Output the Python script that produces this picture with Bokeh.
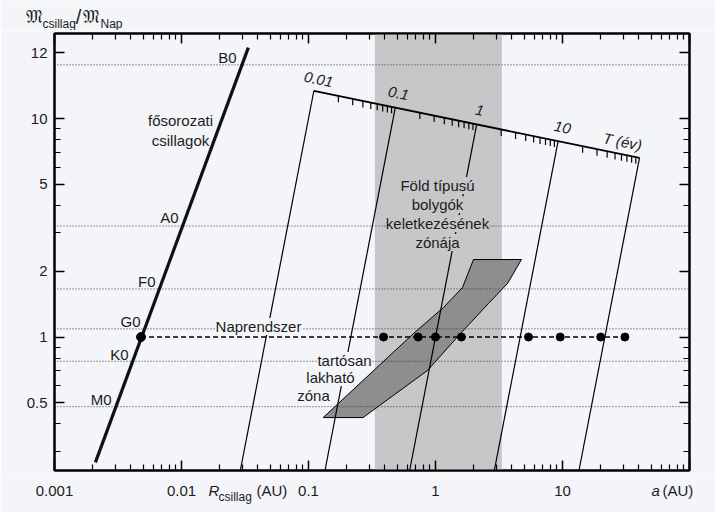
import math
from bokeh.plotting import figure
from bokeh.layouts import column
from bokeh.models import Label, LogAxis, FixedTicker, Range1d
from bokeh.embed import file_html
from bokeh.resources import INLINE

# ---------------- data ----------------
X_MIN, X_MAX = 0.001, 100.0
Y_MIN, Y_MAX = 0.245, 24.5

x_major = [0.001, 0.01, 0.1, 1, 10, 100]
x_major_labels = ["0.001", "0.01", "0.1", "1", "10", ""]
y_major = [0.5, 1, 2, 5, 10, 20]
y_major_labels = ["0.5", "1", "2", "5", "10", "12"]
y_minor = [0.3, 0.4, 0.6, 0.7, 0.8, 0.9, 3, 4, 6, 7, 8, 9]

# main sequence (stellar radius in AU vs. mass in solar masses)
ms_radius = [0.0021, 0.0336]
ms_mass = [0.267, 21.1]
sun_radius = 0.0048
sun_mass = 1.0

# spectral classes
spec_names = ["B0", "A0", "F0", "G0", "K0", "M0"]
spec_mass = [17.6, 3.22, 1.66, 1.09, 0.775, 0.48]

# planets of the Solar System (semi-major axis, AU)
planet_a = [0.39, 0.73, 1.0, 1.6, 5.4, 9.6, 20.0, 31.0]

# terrestrial planet formation zone (AU)
band_a = [0.333, 3.33]

# continuously habitable zone polygon
hz_a = [0.1306, 0.671, 1.156, 1.632, 1.99, 4.75, 3.69, 2.61, 1.574, 0.865, 0.269]
hz_m = [0.428, 1.038, 1.365, 1.685, 2.263, 2.263, 1.758, 1.423, 1.038, 0.703, 0.428]

# orbital period scale T (years)
T_lines = [0.01, 0.1, 1, 10, 100]
T_axis_ends = [0.01, 100]
T_axis_mass = [13.4, 6.6]
T_minor = [m * 10.0 ** k for k in range(-2, 2) for m in range(2, 10)]

# ---------------- style / layout ----------------
FONT = "Liberation Sans"
BG = "#f3f5f8"
BAND = "#c7c7c9"
HZ = "#8e8e8e"
TXT = "#1c1c1c"

W, H = 715, 512
FR_L, FR_T, FR_R, FR_B = 54, 33, 689, 470
PX_X = (FR_R - FR_L) / 5.0
PX_Y = (FR_B - FR_T) / 2.0
TOP_H = 30
GAP = 3
MAIN_H = (FR_B - FR_T) + 2 * GAP
BOT_H = H - TOP_H - MAIN_H


def dx(px):
    return 10 ** (-3 + (px - FR_L) / PX_X)


def dy(py):
    return 10 ** (math.log10(Y_MAX) - (py - FR_T) / PX_Y)


p = figure(width=W, height=MAIN_H, x_axis_type="log", y_axis_type="log",
           x_range=Range1d(X_MIN, X_MAX), y_range=Range1d(Y_MIN, Y_MAX),
           output_backend="svg", toolbar_location=None, frame_align=False,
           min_border_left=FR_L, min_border_right=W - FR_R,
           min_border_top=GAP, min_border_bottom=GAP)
p.background_fill_color = BG
p.border_fill_color = BG
p.outline_line_color = "black"
p.outline_line_width = 2
p.xgrid.visible = False
p.ygrid.visible = False

x_minor = [m * 10.0 ** k for k in range(-3, 2) for m in range(2, 10)]


def style_axis(ax, ticks, minor, labels, show):
    ax.ticker = FixedTicker(ticks=ticks, minor_ticks=minor)
    ax.major_tick_in = 10
    ax.major_tick_out = 0
    ax.minor_tick_in = 6
    ax.minor_tick_out = 0
    ax.axis_line_width = 2
    ax.axis_line_color = "black"
    ax.major_tick_line_width = 1.5
    ax.minor_tick_line_width = 1.2
    ax.major_label_text_font = FONT
    ax.major_label_text_color = TXT
    if show:
        ax.major_label_overrides = {t: l for t, l in zip(ticks, labels)}
        ax.major_label_text_font_size = "15px"
    else:
        ax.major_label_overrides = {t: "" for t in ticks}
        ax.major_label_text_font_size = "1px"
        ax.major_label_standoff = 0


style_axis(p.xaxis[0], x_major, x_minor, x_major_labels, False)
style_axis(p.yaxis[0], y_major, y_minor, y_major_labels, True)
p.yaxis[0].major_label_standoff = 7

top_ax = LogAxis()
style_axis(top_ax, x_major, x_minor, x_major_labels, False)
p.add_layout(top_ax, "above")
right_ax = LogAxis()
style_axis(right_ax, y_major, y_minor, y_major_labels, False)
p.add_layout(right_ax, "right")

# band
p.quad(left=[band_a[0]], right=[band_a[1]], bottom=[Y_MIN], top=[Y_MAX],
       fill_color=BAND, line_color=None)

# habitable zone
p.patch(hz_a, hz_m, fill_color=HZ, line_color="black", line_width=1)

# spectral class dotted lines
p.segment(x0=[X_MIN] * len(spec_mass), y0=spec_mass, x1=[X_MAX] * len(spec_mass), y1=spec_mass,
          line_color="#333333", line_width=1, line_dash="1 2")

# iso-period lines
la0 = (2 * math.log10(T_axis_ends[0]) + math.log10(T_axis_mass[0])) / 3
la1 = (2 * math.log10(T_axis_ends[1]) + math.log10(T_axis_mass[1])) / 3
lm0, lm1 = math.log10(T_axis_mass[0]), math.log10(T_axis_mass[1])
lt0, lt1 = math.log10(T_axis_ends[0]), math.log10(T_axis_ends[1])


def t_axis_point(T):
    f = (math.log10(T) - lt0) / (lt1 - lt0)
    return 10 ** (la0 + f * (la1 - la0)), 10 ** (lm0 + f * (lm1 - lm0))


iso_x0, iso_y0, iso_x1, iso_y1 = [], [], [], []
for T in T_lines:
    at, mt = t_axis_point(T)
    iso_x0.append((T ** 2 * Y_MIN) ** (1 / 3))
    iso_y0.append(Y_MIN)
    iso_x1.append(at)
    iso_y1.append(mt)
p.segment(x0=iso_x0, y0=iso_y0, x1=iso_x1, y1=iso_y1, line_color="black", line_width=1.2)

# T axis
a_l, m_l = t_axis_point(T_axis_ends[0])
a_r, m_r = t_axis_point(T_axis_ends[1])
p.line([a_l, a_r], [m_l, m_r], line_color="black", line_width=1.8)
tk_x, tk_y0, tk_y1 = [], [], []
drop = 10 ** (6.5 / PX_Y)
for T in T_minor:
    at, mt = t_axis_point(T)
    tk_x.append(at)
    tk_y0.append(mt)
    tk_y1.append(mt / drop)
p.segment(x0=tk_x, y0=tk_y0, x1=tk_x, y1=tk_y1, line_color="black", line_width=1.2)

# main sequence
p.line(ms_radius, ms_mass, line_color="#111111", line_width=3.2)

# sun line + planets
p.line([sun_radius, planet_a[-1]], [sun_mass, sun_mass], line_color="black",
       line_width=1.5, line_dash="5 3")
p.scatter([sun_radius], [sun_mass], size=9, color="black")
p.scatter(planet_a, [sun_mass] * len(planet_a), size=8, color="black")


def lab(fig, x, y, text, size="15px", align="center", style="normal", bg=None, angle=0.0):
    fig.add_layout(Label(x=x, y=y, text=text, text_align=align, text_baseline="middle",
                         text_font=FONT, text_font_size=size, text_font_style=style,
                         text_color=TXT, angle=angle,
                         background_fill_color=bg, background_fill_alpha=1.0 if bg else 0.0))


def mlab(text, px, py, **kw):
    lab(p, dx(px), dy(py), text, **kw)


# spectral labels
for name, rx, ry in zip(spec_names, [236, 178, 155, 140, 128, 111], [57, 217, 281, 321, 354, 399]):
    mlab(name, rx, ry, align="right")

mlab("fősorozati", 180, 120)
mlab("csillagok", 180, 140)
mlab("Naprendszer", 258, 326, bg=BG)
mlab("tartósan", 344, 360, bg=BG)
mlab("lakható", 330, 377, bg=BG)
mlab("zóna", 313, 395, bg=BG)

mlab("Föld típusú", 437, 185, bg=BAND)
mlab("bolygók", 437, 204, bg=BAND)
mlab("keletkezésének", 437, 223, bg=BAND)
mlab("zónája", 437, 242, bg=BAND)

ang = -0.2
mlab("0.01", 318, 79, style="italic", angle=ang)
mlab("0.1", 398, 93, style="italic", angle=ang)
mlab("1", 479, 110, style="italic", angle=ang)
mlab("10", 562, 127, style="italic", angle=ang)
mlab("T (év)", 622, 141, style="italic", angle=ang)


def strip(height, y_top, log_x):
    kw = dict(x_axis_type="log", x_range=Range1d(dx(0), dx(W))) if log_x else dict(x_range=Range1d(0, W))
    f = figure(width=W, height=height, y_range=Range1d(y_top + height, y_top),
               output_backend="svg", toolbar_location=None, frame_align=False,
               x_axis_location=None, y_axis_location=None,
               min_border_left=0, min_border_right=0, min_border_top=0, min_border_bottom=0, **kw)
    f.background_fill_color = BG
    f.border_fill_color = BG
    f.outline_line_color = None
    f.grid.visible = False
    return f


# ---- top strip: y-axis title
top = strip(TOP_H, 0, False)
lab(top, 25, 16, "𝔐", size="18px", align="left")
lab(top, 42, 23, "csillag", size="12px", align="left")
lab(top, 78, 16, "/", size="20px")
lab(top, 82, 16, "𝔐", size="18px", align="left")
lab(top, 100, 23, "Nap", size="12px", align="left")

# ---- bottom strip: x tick labels and axis titles
bot = strip(BOT_H, H - BOT_H, True)
for t, l in zip(x_major, x_major_labels):
    if l:
        lab(bot, t, 490, l, size="15px")
lab(bot, dx(208), 490, "R", size="15px", style="italic", align="left")
lab(bot, dx(218), 496, "csillag", size="12px", align="left")
lab(bot, dx(256), 490, "(AU)", size="15px", align="left")
lab(bot, dx(651), 490, "a", size="15px", style="italic", align="left")
lab(bot, dx(662), 490, "(AU)", size="15px", align="left")

layout = column(top, p, bot, spacing=0)
open("out.html", "w").write(file_html(layout, INLINE))
